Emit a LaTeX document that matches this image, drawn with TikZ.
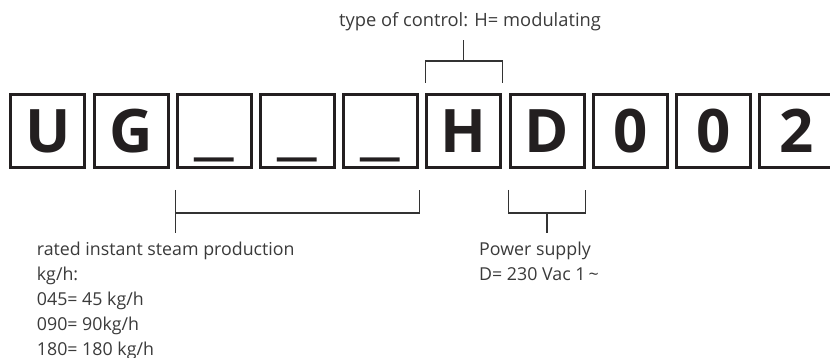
\documentclass[tikz,border=0pt]{standalone}
\usepackage{fontspec}
\setmainfont{Open Sans}
\definecolor{boxc}{HTML}{231F20}
\definecolor{linec}{HTML}{333333}
\definecolor{txtc}{HTML}{3A3A3A}
\newcommand{\wideus}{\scalebox{1.6}[1]{\_}}
\begin{document}
\begin{tikzpicture}[x=1pt,y=-1pt,
  boxst/.style={draw=boxc, line width=3pt, minimum width=74pt, minimum height=73pt,
    inner sep=0pt, text height=43pt, text depth=0pt,
    font=\fontsize{60}{60}\selectfont\bfseries, text=boxc},
  br/.style={draw=linec, line width=1.1pt},
  lbl/.style={font=\fontsize{17.8}{25}\selectfont, text=txtc, inner sep=0pt}]
\useasboundingbox (0,0) rectangle (830,358);
\clip (0,0) rectangle (830,358);
\foreach \t [count=\i] in {U,G,\wideus,\wideus,\wideus,H,D,0,0,2} {
  \node[boxst] (b\i) at ({47.8+83.2*(\i-1)},131) {\t};
}
% top label and bracket
\node[lbl, font=\fontsize{18.3}{25}\selectfont, anchor=base] (ctl) at (470,27) {type of control: H= modulating};
\draw[br] ([yshift=10pt]b6.north west) |- ([yshift=32pt]b6.north) -| ([yshift=10pt]b6.north east);
\draw[br] ([yshift=32pt]b6.north) -- ([yshift=53pt]b6.north);
% left bottom bracket
\node[lbl, anchor=north west, align=left] (rate) at (36.7,241.5)
  {rated instant steam production\\kg/h:\\045= 45 kg/h\\090= 90kg/h\\180= 180 kg/h};
\draw[br] ([yshift=-21pt]b3.south west) -- ([yshift=-64pt]b3.south west);
\draw[br] ([yshift=-44pt]b3.south west) -| ([yshift=-21pt]b5.south east);
% power supply bracket
\node[lbl, anchor=north west, align=left] (pow) at (479,241.5)
  {Power supply\\D= 230 Vac 1\,\textasciitilde};
\draw[br] ([yshift=-21pt]b7.south west) |- ([yshift=-44pt]b7.south) -| ([yshift=-21pt]b7.south east);
\draw[br] ([yshift=-44pt]b7.south) -- ([yshift=-64pt]b7.south);
\end{tikzpicture}
\end{document}
